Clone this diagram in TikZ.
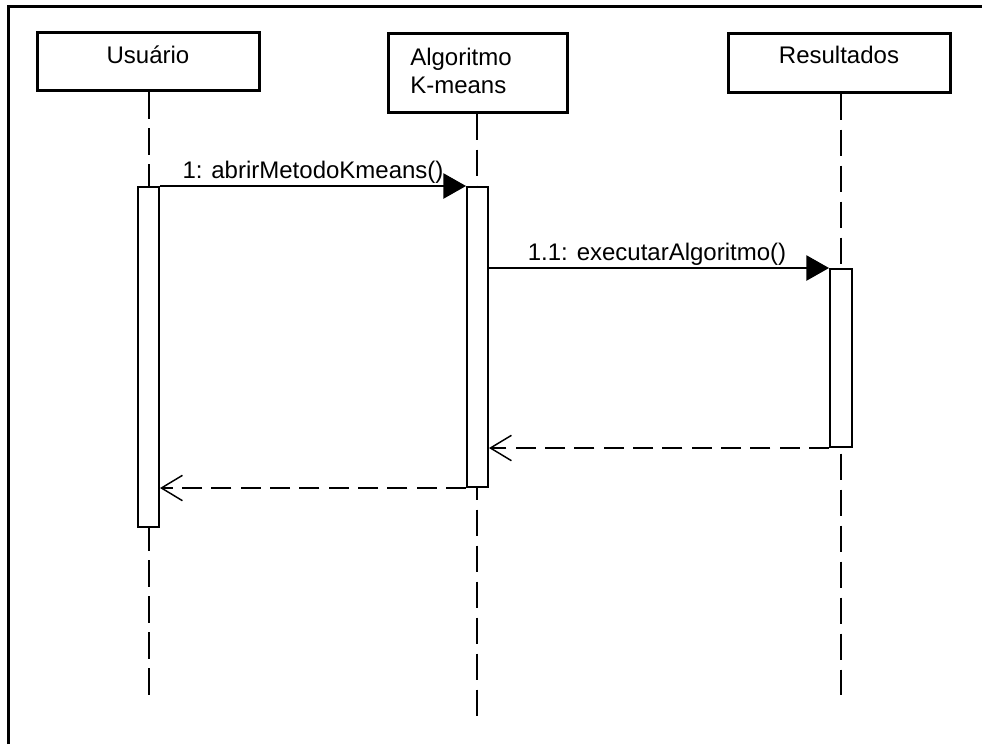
\documentclass[tikz,border=0pt]{standalone}
\usepackage{fontspec}
\setmainfont{Liberation Sans}
\usetikzlibrary{arrows.meta}
\begin{document}
\begin{tikzpicture}[x=0.75pt,y=-0.75pt,
  actor/.style={draw, line width=2.25pt, inner sep=0pt, fill=white},
  lbl/.style={font=\fontsize{18}{22}\selectfont, inner sep=0pt, anchor=base},
  lifeline/.style={line width=1.2pt, dash pattern=on 20pt off 7pt},
  bar/.style={draw, line width=1.5pt, fill=white, inner sep=0pt},
  msg/.style={line width=1.1pt, -{Triangle[length=17pt,width=19pt]}},
  ret/.style={line width=1.1pt, dash pattern=on 15pt off 7pt, -{Straight Barb[length=15.75pt,width=19pt,line width=1.1pt]}}]
\useasboundingbox (0,0) rectangle (982,744);
\fill[white] (0,0) rectangle (982,744);
% frame
\draw[line width=2.25pt] (8,744) -- (8,6) -- (982,6);
% actors
\node[actor, minimum width=166.5pt, minimum height=43.5pt] (u) at (148,61.5) {};
\node[actor, minimum width=134.25pt, minimum height=59.25pt] (a) at (477.5,72.5) {};
\node[actor, minimum width=166.5pt, minimum height=44.25pt] (r) at (839,62.5) {};
\node[lbl] (ut) at (148,63) {Usuário};
\node[lbl, anchor=base west] (at1) at (410,65) {Algoritmo};
\node[lbl, anchor=base west] (at2) at (410,93) {K-means};
\node[lbl] (rt) at (839,63) {Resultados};
% lifelines
\coordinate (ue) at (149,695);
\coordinate (ae) at (477,717);
\coordinate (re) at (841,695);
\draw[lifeline] (u.south -| ue) -- (ue);
\draw[lifeline] (a.south -| ae) -- (ae);
\draw[lifeline] (r.south -| re) -- (re);
% activation bars
\node[bar, minimum width=15.75pt, minimum height=255pt] (ub) at (148.5,357) {};
\node[bar, minimum width=15.75pt, minimum height=225pt] (ab) at (477.5,337) {};
\node[bar, minimum width=16.5pt, minimum height=133.5pt] (rb) at (841,358) {};
% messages
\draw[msg] (ub.north east) -- (ab.north west);
\node[lbl] (m1) at (313,178) {1: abrirMetodoKmeans()};
\draw[msg] (ab.east |- rb.north) -- (rb.north west);
\node[lbl] (m2) at (657,260) {1.1: executarAlgoritmo()};
% returns
\draw[ret] (rb.south west) -- (ab.east |- rb.south west);
\draw[ret] (ab.south west) -- (ub.east |- ab.south west);
\end{tikzpicture}
\end{document}
